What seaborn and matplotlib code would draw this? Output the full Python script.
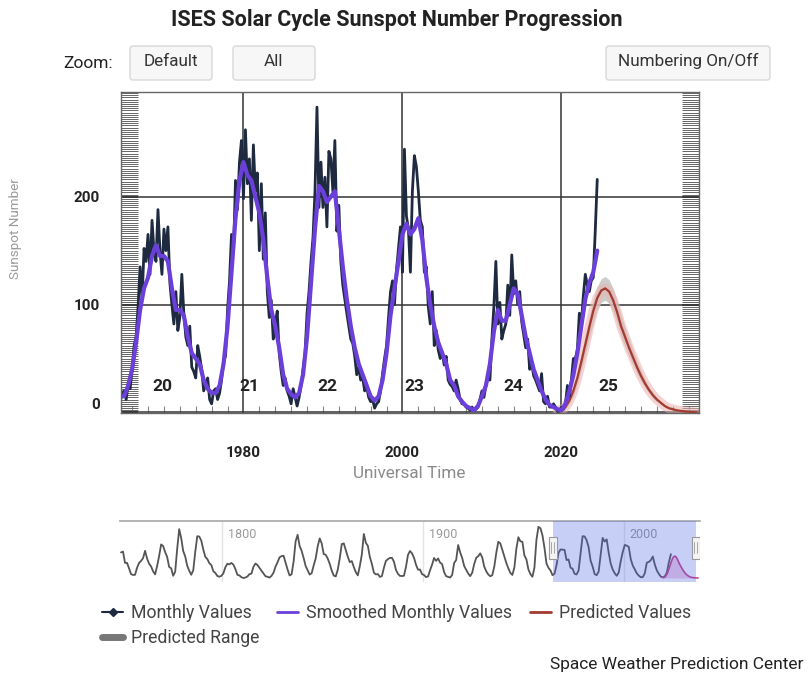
import numpy as np
import pandas as pd
import matplotlib
matplotlib.use("Agg")
import matplotlib.pyplot as plt
import matplotlib.transforms as mtransforms
from matplotlib.patches import FancyBboxPatch, Rectangle
from matplotlib.lines import Line2D
from matplotlib.ticker import MultipleLocator
import seaborn as sns

# ---------------- data ----------------
# observed sunspot numbers, sampled every 3 months from 1964.0
monthly_start = 1964.0
monthly_step = 0.25
monthly_values = [
    25, 14, 10, 18,   20, 12, 26, 22,   40, 62, 70, 98,   135, 105, 152, 140,
    165, 128, 178, 150,   140, 188, 150, 128,   170, 150, 172, 120,   100, 82, 112, 76,
    88, 128, 92, 70,   62, 80, 42, 38,   32, 62, 52, 40,   20, 26, 32, 12,
    8, 20, 22, 12,   18, 30, 48, 52,   95, 122, 165, 148,   215, 188, 232, 252,
    198, 262, 212, 235,   178, 248, 205, 222,   150, 212, 142, 185,   112, 88, 104, 68,
    82, 94, 55, 38,   25, 32, 20, 15,   8, 22, 14, 6,   14, 25, 40, 55,
    92, 112, 140, 162,   205, 283, 190, 232,   190, 218, 172, 242,   235, 205, 252, 168,
    192, 140, 118, 105,   92, 80, 68, 64,   52, 35, 42, 30,   32, 20, 24, 14,
    10, 12, 4, 8,   10, 20, 36, 50,   62, 88, 112, 122,   100, 132, 152, 172,
    130, 244, 182, 170,   130, 205, 238, 228,   205, 178, 172, 130,   135, 98, 82, 112,
    62, 76, 58, 50,   56, 44, 52, 30,   26, 24, 20, 30,   22, 12, 8, 8,
    5, 4, 2, 5,   2, 3, 5, 12,   20, 14, 25, 32,   30, 68, 98, 140,
    82, 102, 68, 76,   82, 118, 90, 146,   110, 122, 100, 112,   84, 72, 60, 68,
    40, 46, 34, 30,   25, 20, 36, 10,   8, 15, 5, 5,   8, 5, 1, 1,
    5, 3, 8, 25,   15, 30, 50, 50,   58, 92, 82, 108,   128, 118, 112, 122,
    125, 168, 216,
]

# smoothed monthly values, every half year from 1964.0
smooth_start = 1964.0
smooth_step = 0.5
smooth_values = [
    20, 15, 15, 25, 40, 65, 95, 115, 125, 145, 155, 145, 145, 140, 115, 95,
    95, 90, 70, 55, 50, 45, 30, 22, 18, 18, 25, 45, 80, 130, 180, 215,
    232, 220, 215, 200, 185, 160, 125, 95, 80, 60, 35, 22, 17, 14, 18, 35,
    70, 120, 170, 210, 205, 195, 200, 205, 170, 135, 105, 80, 60, 45, 35, 25,
    15, 11, 15, 30, 55, 90, 115, 140, 165, 175, 165, 170, 180, 160, 125, 100,
    80, 65, 55, 45, 30, 25, 15, 10, 6, 4, 2, 6, 15, 25, 45, 75,
    95, 85, 85, 100, 115, 110, 90, 70, 55, 40, 30, 20, 12, 7, 5, 3,
    2, 8, 20, 35, 55, 80, 105, 120, 130, 150,
]

# predicted values (cycle 25), every half year from 2019.5
pred_start = 2019.5
pred_step = 0.5
pred_values = [2, 2, 5, 11, 20, 32, 47, 63, 79, 94, 106, 113, 115, 112, 104, 93, 80, 70,
               60, 51, 42, 34, 27, 21, 16, 12, 9, 6, 4, 3, 2, 1.5, 1, 0.5, 0.3, 0]
pred_high = [3, 3, 7, 14, 25, 38, 55, 72, 89, 105, 117, 124, 126, 123, 115, 103, 90, 79,
             68, 58, 48, 39, 31, 24, 19, 14, 10, 7, 5, 3.5, 2.5, 2, 1.2, 0.7, 0.4, 0]
pred_low = [1, 1, 3, 8, 15, 26, 39, 54, 69, 83, 95, 102, 104, 101, 93, 83, 70, 61,
            52, 44, 36, 29, 23, 18, 13, 10, 7, 5, 3, 2.5, 1.5, 1, 0.8, 0.3, 0.2, 0]

# navigator: yearly sunspot numbers from 1749
nav_start = 1749
nav_values = [
    134.7, 139.0, 79.5, 79.7, 51.2, 20.3, 16.0, 17.0, 54.0, 79.3, 90.0,
    104.8, 143.2, 102.0, 75.2, 60.7, 34.8, 19.0, 63.0, 116.3, 176.8,
    168.0, 136.0, 110.8, 58.0, 51.0, 11.7, 33.0, 154.2, 257.3, 209.8,
    141.3, 113.5, 64.2, 38.0, 17.0, 40.2, 138.2, 220.0, 218.2, 196.8,
    149.8, 111.0, 100.0, 78.2, 68.3, 35.5, 26.7, 10.7, 6.8, 11.3,
    24.2, 56.7, 75.0, 71.8, 79.2, 70.3, 46.8, 16.8, 13.5, 4.2,
    0.0, 2.3, 8.3, 20.3, 23.2, 59.0, 76.3, 68.3, 52.9, 38.5,
    24.2, 9.2, 6.3, 2.2, 11.4, 28.2, 59.9, 83.0, 108.5, 115.2,
    117.4, 80.8, 44.3, 13.4, 19.5, 85.8, 192.7, 227.3, 168.7, 143.0,
    105.5, 63.3, 40.3, 18.1, 25.1, 65.8, 102.7, 166.3, 208.3, 182.5,
    126.3, 122.0, 102.7, 74.1, 39.0, 12.7, 8.2, 43.4, 104.4, 178.3,
    182.2, 146.6, 112.1, 83.5, 89.2, 57.8, 30.7, 13.9, 62.8, 123.6,
    232.0, 185.3, 169.2, 110.1, 74.5, 28.3, 18.9, 20.7, 5.7, 10.0,
    53.7, 90.5, 99.0, 106.1, 105.8, 86.3, 42.4, 21.8, 11.2, 10.4,
    11.8, 59.5, 121.7, 142.0, 130.0, 106.6, 69.4, 43.8, 44.4, 20.2,
    15.7, 4.6, 8.5, 40.8, 70.1, 105.5, 90.1, 102.8, 80.9, 73.2,
    30.9, 9.5, 6.0, 2.4, 16.1, 79.0, 95.0, 173.6, 134.6, 105.7,
    62.7, 43.5, 23.7, 9.7, 27.9, 74.0, 106.5, 114.7, 129.7, 108.2,
    59.4, 35.1, 18.6, 9.2, 14.6, 60.2, 132.8, 190.6, 182.6, 148.0,
    113.0, 79.2, 50.8, 27.1, 16.1, 55.3, 154.3, 214.7, 193.0, 190.7,
    118.9, 98.3, 45.0, 20.1, 6.6, 54.2, 200.7, 269.3, 261.7, 225.1,
    159.0, 76.4, 53.4, 39.9, 15.0, 22.0, 66.8, 132.9, 150.0, 149.4,
    148.0, 94.4, 97.6, 54.1, 49.2, 22.5, 18.4, 39.3, 131.0, 220.1,
    218.9, 198.9, 162.4, 91.0, 60.5, 20.6, 14.8, 33.9, 123.0, 211.1,
    191.8, 203.3, 133.0, 76.1, 44.9, 25.1, 11.6, 28.9, 88.3, 136.3,
    173.9, 170.4, 163.6, 99.3, 65.3, 45.8, 24.7, 12.6, 4.2, 4.8,
    24.9, 80.8, 84.5, 94.0, 113.3, 69.8, 39.8, 21.7, 7.0, 3.6,
    8.8, 29.6, 83.2, 125.5,
]
nav_grid_years = [1800, 1900, 2000]
nav_selection = [1964.6, 2035.8]

cycle_labels = ["20", "21", "22", "23", "24", "25"]
cycle_x = [1969.8, 1980.8, 1990.6, 2001.5, 2013.9, 2025.9]
cycle_y = 24

x_ticks = [1980, 2000, 2020]
y_ticks = [0, 100, 200]

# ---------------- frames ----------------
monthly_x = monthly_start + monthly_step * np.arange(len(monthly_values))
smooth_x = smooth_start + smooth_step * np.arange(len(smooth_values))
pred_x = pred_start + pred_step * np.arange(len(pred_values))
nav_x = nav_start + 0.5 + np.arange(len(nav_values))

df_m = pd.DataFrame({"t": monthly_x, "v": monthly_values})
df_s = pd.DataFrame({"t": smooth_x, "v": smooth_values})
df_p = pd.DataFrame({"t": pred_x, "v": pred_values, "lo": pred_low, "hi": pred_high})
df_n = pd.DataFrame({"t": nav_x, "v": nav_values})

# ---------------- style ----------------
W, H = 808, 677
sns.set_theme(style="white")
plt.rcParams["font.family"] = ["Roboto", "DejaVu Sans"]

C_MONTH = "#1d2a3f"
C_SMOOTH = "#6b3fd9"
C_PRED = "#a33a2f"
C_HALO = "#eab2ae"
C_RANGE = "#bdbdbd"

fig = plt.figure(figsize=(W / 100, H / 100), dpi=100, facecolor="white")


def fx(px):
    return px / W


def fy(py):
    return 1 - py / H


# overlay in pixel coordinates for title / buttons
ov = fig.add_axes([0, 0, 1, 1], zorder=0)
ov.set_xlim(0, W)
ov.set_ylim(H, 0)
ov.axis("off")

ov.text(397, 20, "ISES Solar Cycle Sunspot Number Progression", ha="center", va="center",
        fontsize=15.5, fontweight="bold", color="#222222")
ov.text(88, 63, "Zoom:", ha="center", va="center", fontsize=12.5, color="#222222")
for (x0, x1, label) in [(130, 212, "Default"), (233, 315, "All"), (606, 770, "Numbering On/Off")]:
    ov.add_patch(FancyBboxPatch((x0, 46), x1 - x0, 34, boxstyle="round,pad=0,rounding_size=3",
                                facecolor="#f7f7f7", edgecolor="#d8d8d8", lw=1))
    ov.text((x0 + x1) / 2, 61, label, ha="center", va="center", fontsize=12.3, color="#333333")
ov.text(803, 665, "Space Weather Prediction Center", ha="right", va="center",
        fontsize=12.5, color="#222222")

# ---------------- main chart ----------------
ax = fig.add_axes([fx(121), fy(413), fx(699) - fx(121), fy(92) - fy(413)], zorder=2)
ax.set_facecolor("white")

ax.fill_between(df_p["t"], df_p["lo"], df_p["hi"], color=C_RANGE, alpha=0.75, lw=0, zorder=1)
sns.lineplot(data=df_p, x="t", y="v", ax=ax, color=C_HALO, lw=7, alpha=0.55,
             estimator=None, sort=False, zorder=1.5)
sns.lineplot(data=df_p, x="t", y="v", ax=ax, color=C_PRED, lw=1.6,
             estimator=None, sort=False, zorder=1.8)
sns.lineplot(data=df_m, x="t", y="v", ax=ax, color=C_MONTH, lw=2.0,
             estimator=None, sort=False, zorder=2)
sns.lineplot(data=df_s, x="t", y="v", ax=ax, color=C_SMOOTH, lw=3.0,
             estimator=None, sort=False, zorder=3)

for lab, cx in zip(cycle_labels, cycle_x):
    ax.text(cx, cycle_y, lab, ha="center", va="center", fontsize=12.5,
            fontweight="bold", color="#222222", zorder=4)

ax.set_xlim(1964.6, 2037.3)
ax.set_ylim(-0.5, 297)
ax.set_xticks(x_ticks)
ax.set_xticklabels([str(t) for t in x_ticks], fontweight="bold", fontsize=11, color="#222222")
ax.set_yticks(y_ticks)
ax.set_yticklabels([str(t) for t in y_ticks], fontweight="bold", fontsize=11, color="#222222")
ax.get_yticklabels()[0].set_va("bottom")
ax.xaxis.set_minor_locator(MultipleLocator(2))
ax.yaxis.set_minor_locator(MultipleLocator(2))
ax.tick_params(axis="x", which="major", direction="in", length=5, width=1, color="#555555", pad=24)
ax.tick_params(axis="x", which="minor", direction="in", length=5, width=0.8, color="#888888",
               bottom=True, top=False)
ax.tick_params(axis="y", which="major", direction="in", length=12, width=1.2, color="#333333",
               left=True, right=True, pad=15)
ax.tick_params(axis="y", which="minor", direction="in", length=12, width=0.7, color="#666666",
               left=True, right=True)
ax.grid(True, which="major", color="#333333", lw=1.1)
for s in ax.spines.values():
    s.set_color("#666666")
    s.set_linewidth(1)

ax.set_xlabel("Universal Time", fontsize=12.3, color="#8a8a8a", va="center")
ax.xaxis.set_label_coords((409.5 - 121) / 578, -(473 - 413) / 321)
ax.set_ylabel("Sunspot Number", fontsize=9.7, color="#999999", va="center")
ax.yaxis.set_label_coords((16 - 121) / 578, (413 - 229) / 321)

# ---------------- navigator ----------------
nav = fig.add_axes([fx(120), fy(582), fx(700) - fx(120), fy(521) - fy(582)], zorder=2)
nav.set_facecolor("white")
for yr in nav_grid_years:
    nav.axvline(yr, color="#e4e4e4", lw=1, zorder=0)
    nav.text(yr + 3, 228, str(yr), ha="left", va="center", fontsize=9, color="#9a9a9a", zorder=1)
sns.lineplot(data=df_n, x="t", y="v", ax=nav, color="#555555", lw=1.3,
             estimator=None, sort=False, zorder=2)
nav.fill_between(df_p["t"], 0, df_p["v"], color="#f2b8d8", alpha=0.7, lw=0, zorder=2.5)
sns.lineplot(data=df_p, x="t", y="v", ax=nav, color="#c8428a", lw=1.2,
             estimator=None, sort=False, zorder=2.6)
nav.axvspan(nav_selection[0], nav_selection[1], color="#4a63e6", alpha=0.3, lw=0, zorder=5)
bt = mtransforms.blended_transform_factory(nav.transData, nav.transAxes)
for hx in nav_selection:
    nav.add_patch(Rectangle((hx - 2.0, 0.38), 4.0, 0.36, transform=bt, facecolor="#f4f4f4",
                            edgecolor="#999999", lw=0.8, zorder=6))
    for dx in (-0.7, 0.7):
        nav.add_line(Line2D([hx + dx, hx + dx], [0.47, 0.65], transform=bt, color="#999999",
                            lw=0.6, zorder=7))
nav.set_xlim(1749, 2038)
nav.set_ylim(-21, 300)
nav.set_xticks([])
nav.set_yticks([])
nav.set_xlabel("")
nav.set_ylabel("")
for k, s in nav.spines.items():
    s.set_visible(k == "top")
nav.spines["top"].set_color("#aaaaaa")

# ---------------- legend ----------------
handles = [
    Line2D([], [], color=C_MONTH, lw=1.5, marker="D", markersize=4.5),
    Line2D([], [], color="#777777", lw=5),
    Line2D([], [], color=C_SMOOTH, lw=2),
    Line2D([], [], color=C_PRED, lw=2),
]
labels = ["Monthly Values", "Predicted Range", "Smoothed Monthly Values", "Predicted Values"]
fig.legend(handles, labels, ncol=3, loc="upper left", bbox_to_anchor=(fx(102), fy(604)),
           frameon=False, fontsize=12.7, labelcolor="#444444", handlelength=1.2,
           handletextpad=0.45, columnspacing=1.0, labelspacing=0.42, borderpad=0,
           borderaxespad=0)

fig.savefig("out.png", dpi=100, facecolor="white")
